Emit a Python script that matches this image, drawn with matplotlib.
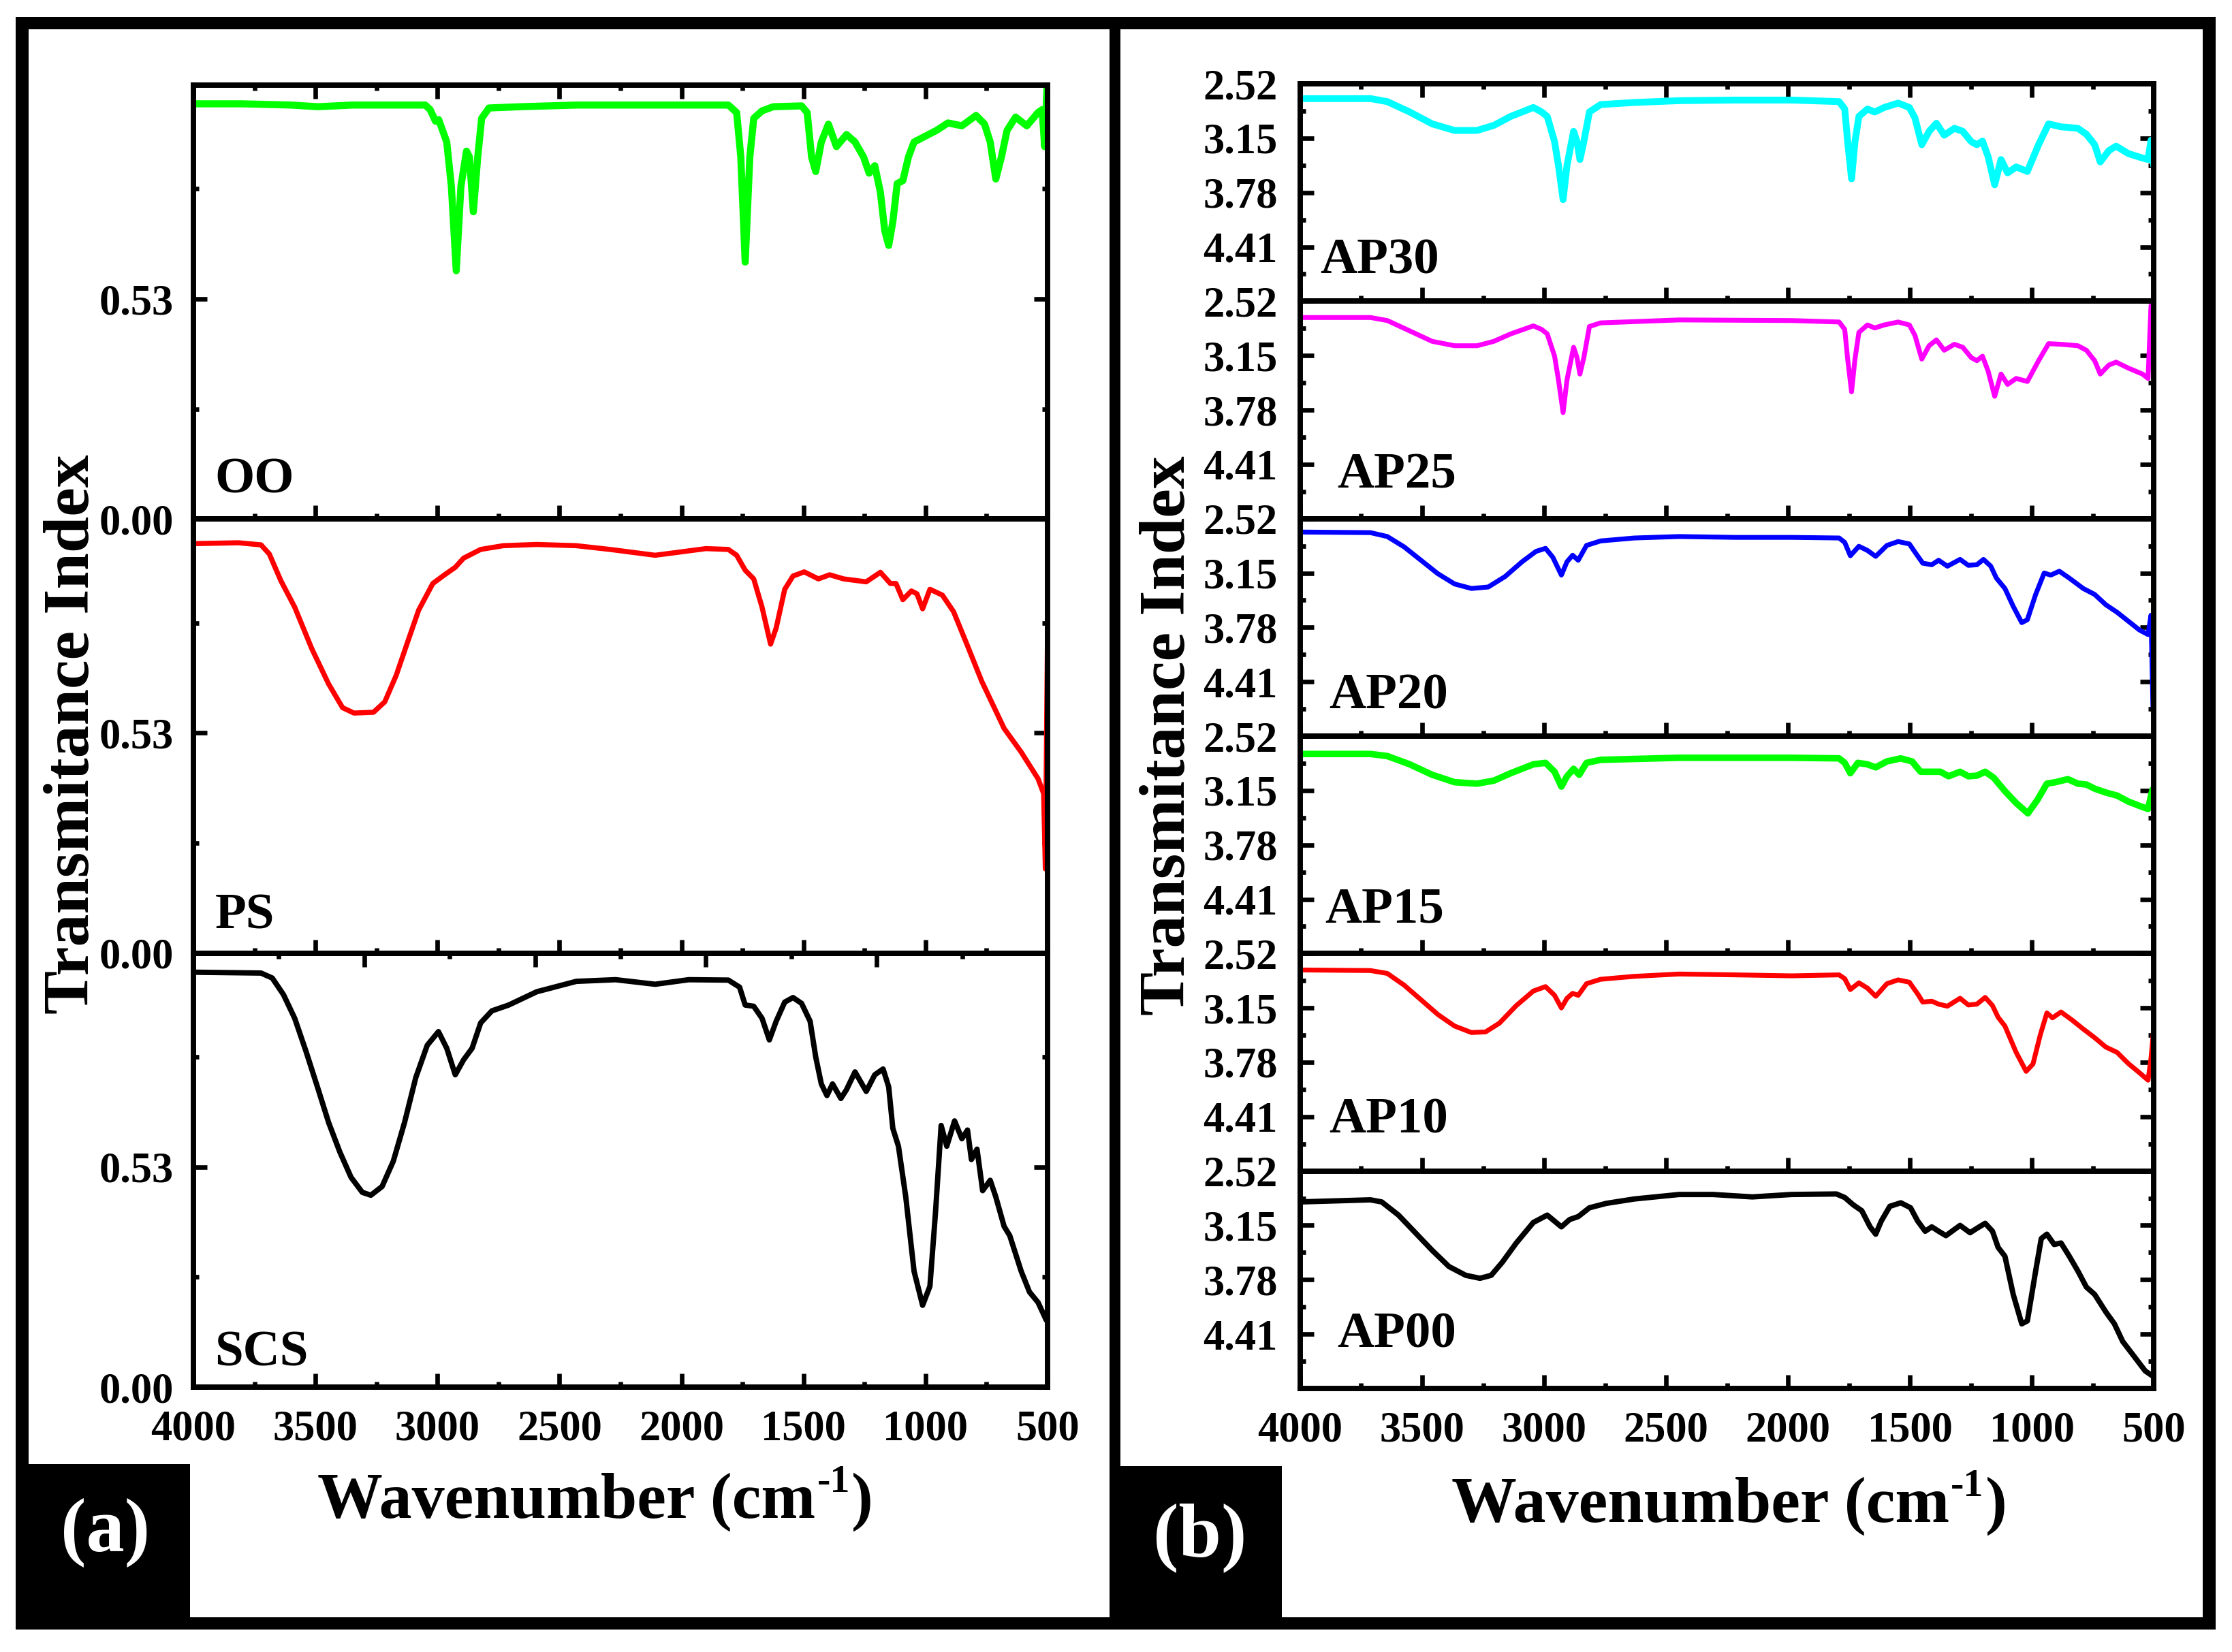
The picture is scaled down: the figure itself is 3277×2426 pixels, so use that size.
import matplotlib
matplotlib.use("Agg")
import matplotlib.pyplot as plt
from matplotlib.patches import Rectangle
from matplotlib.ticker import FixedLocator, NullFormatter, FormatStrFormatter

# ---------------- data ----------------
x_ticks = [4000, 3500, 3000, 2500, 2000, 1500, 1000, 500]
a_yticks = [0.00, 0.53]
b_yticks = [2.52, 3.15, 3.78, 4.41]

oo_wn = [4000, 3800, 3600, 3490, 3350, 3050, 3030, 3008, 2995, 2962, 2943, 2923, 2904, 2881, 2869, 2853, 2835,
         2819, 2789, 2660, 2430, 2200, 1970, 1808, 1774, 1757, 1739, 1720, 1704, 1670, 1624, 1508, 1485, 1467,
         1450, 1427, 1398, 1365, 1324, 1289, 1254, 1231, 1208, 1185, 1167, 1151, 1134, 1116, 1093, 1070, 1047,
         1001, 955, 908, 851, 793, 758, 735, 712, 689, 666, 631, 585, 539, 522, 512, 502]
oo_t = [1.000, 1.000, 0.997, 0.993, 0.997, 0.997, 0.986, 0.958, 0.962, 0.908, 0.801, 0.598, 0.801, 0.886, 0.872,
        0.740, 0.872, 0.965, 0.990, 0.993, 0.997, 0.997, 0.997, 0.997, 0.979, 0.872, 0.619, 0.872, 0.965, 0.983,
        0.993, 0.995, 0.979, 0.872, 0.837, 0.908, 0.951, 0.897, 0.926, 0.908, 0.872, 0.833, 0.851, 0.787, 0.694,
        0.659, 0.716, 0.808, 0.815, 0.872, 0.908, 0.922, 0.936, 0.954, 0.947, 0.972, 0.951, 0.908, 0.819, 0.872,
        0.936, 0.968, 0.947, 0.979, 0.986, 0.897, 1.043]

ps_wn = [4000, 3815, 3723, 3689, 3642, 3585, 3515, 3446, 3389, 3342, 3262, 3216, 3169, 3123, 3077, 3019, 2973,
         2927, 2893, 2823, 2731, 2593, 2431, 2293, 2108, 2016, 1900, 1808, 1774, 1739, 1704, 1670, 1635, 1612,
         1577, 1543, 1497, 1439, 1393, 1335, 1243, 1185, 1144, 1121, 1093, 1058, 1035, 1012, 982, 931, 885, 828,
         770, 678, 608, 539, 516, 509, 500]
ps_t = [0.986, 0.988, 0.983, 0.961, 0.897, 0.833, 0.733, 0.648, 0.591, 0.578, 0.580, 0.605, 0.669, 0.748, 0.826,
        0.890, 0.910, 0.929, 0.951, 0.972, 0.981, 0.984, 0.981, 0.972, 0.958, 0.965, 0.974, 0.972, 0.958, 0.922,
        0.901, 0.833, 0.744, 0.783, 0.876, 0.908, 0.918, 0.901, 0.911, 0.901, 0.894, 0.917, 0.890, 0.890, 0.851,
        0.872, 0.865, 0.829, 0.876, 0.862, 0.822, 0.740, 0.655, 0.541, 0.484, 0.420, 0.384, 0.203, 0.783]

scs_wn = [4000, 3723, 3677, 3631, 3585, 3539, 3492, 3446, 3400, 3354, 3308, 3273, 3227, 3181, 3135, 3089, 3042,
          2996, 2962, 2927, 2893, 2858, 2823, 2777, 2708, 2593, 2431, 2270, 2108, 1970, 1808, 1762, 1739, 1704,
          1670, 1640, 1612, 1577, 1543, 1508, 1473, 1450, 1427, 1404, 1381, 1347, 1324, 1289, 1243, 1208, 1174,
          1151, 1134, 1111, 1081, 1047, 1012, 982, 959, 936, 913, 881, 851, 828, 812, 789, 766, 735, 712, 678,
          655, 608, 574, 539, 505]
scs_t = [0.999, 0.997, 0.985, 0.945, 0.888, 0.809, 0.723, 0.637, 0.566, 0.505, 0.469, 0.462, 0.483, 0.544, 0.637,
         0.745, 0.823, 0.856, 0.816, 0.752, 0.788, 0.816, 0.877, 0.906, 0.920, 0.952, 0.977, 0.981, 0.970, 0.981,
         0.980, 0.963, 0.920, 0.917, 0.888, 0.836, 0.881, 0.927, 0.938, 0.924, 0.881, 0.795, 0.730, 0.702, 0.730,
         0.695, 0.716, 0.759, 0.712, 0.752, 0.766, 0.723, 0.623, 0.580, 0.458, 0.279, 0.197, 0.243, 0.422, 0.630,
         0.580, 0.641, 0.598, 0.619, 0.548, 0.573, 0.473, 0.498, 0.458, 0.387, 0.365, 0.279, 0.229, 0.204, 0.161]

ap30_wn = [4000, 3712, 3643, 3551, 3459, 3367, 3275, 3206, 3137, 3044, 3010, 2987, 2957, 2941, 2922, 2906, 2879,
           2865, 2853, 2837, 2814, 2768, 2630, 2446, 2215, 1985, 1790, 1767, 1755, 1739, 1725, 1709, 1674, 1644,
           1605, 1548, 1502, 1479, 1451, 1421, 1391, 1359, 1317, 1283, 1248, 1225, 1202, 1179, 1152, 1126, 1099,
           1064, 1018, 972, 931, 880, 811, 776, 742, 719, 684, 654, 604, 546, 523, 511, 500]
ap30_t = [2.692, 2.692, 2.727, 2.847, 2.985, 3.061, 3.061, 3.002, 2.899, 2.795, 2.847, 2.899, 3.191, 3.467, 3.863,
          3.467, 3.071, 3.191, 3.398, 3.191, 2.847, 2.761, 2.737, 2.716, 2.709, 2.709, 2.727, 2.813, 3.191, 3.622,
          3.191, 2.899, 2.813, 2.847, 2.795, 2.744, 2.795, 2.916, 3.226, 3.071, 2.978, 3.116, 3.036, 3.071, 3.191,
          3.226, 3.185, 3.364, 3.691, 3.398, 3.553, 3.484, 3.536, 3.226, 2.985, 3.019, 3.036, 3.105, 3.226, 3.426,
          3.295, 3.243, 3.329, 3.381, 3.398, 3.174, 3.467]

ap25_wn = [4000, 3712, 3643, 3551, 3459, 3367, 3275, 3206, 3137, 3044, 3010, 2987, 2957, 2941, 2922, 2906, 2879,
           2865, 2853, 2837, 2814, 2768, 2446, 1985, 1790, 1767, 1755, 1739, 1725, 1709, 1674, 1644, 1605, 1548,
           1502, 1479, 1451, 1421, 1391, 1359, 1317, 1283, 1248, 1225, 1202, 1179, 1152, 1126, 1099, 1064, 1018,
           972, 931, 880, 811, 776, 742, 719, 684, 654, 604, 546, 523, 511, 500]
ap25_t = [2.709, 2.709, 2.744, 2.864, 2.985, 3.036, 3.036, 2.985, 2.899, 2.806, 2.847, 2.899, 3.157, 3.432, 3.811,
          3.432, 3.054, 3.174, 3.364, 3.174, 2.813, 2.771, 2.737, 2.744, 2.761, 2.847, 3.191, 3.570, 3.191, 2.882,
          2.795, 2.830, 2.795, 2.761, 2.795, 2.916, 3.191, 3.036, 2.968, 3.088, 3.019, 3.054, 3.174, 3.209, 3.157,
          3.329, 3.622, 3.364, 3.484, 3.415, 3.450, 3.209, 3.012, 3.019, 3.036, 3.088, 3.209, 3.364, 3.260, 3.226,
          3.295, 3.364, 3.415, 2.572, 2.520]

ap20_wn = [4000, 3712, 3643, 3574, 3505, 3436, 3367, 3298, 3229, 3160, 3090, 3033, 2994, 2964, 2929, 2906, 2883,
           2860, 2826, 2768, 2630, 2446, 2215, 1985, 1790, 1767, 1744, 1709, 1674, 1640, 1594, 1548, 1502, 1477,
           1447, 1410, 1382, 1346, 1294, 1260, 1225, 1198, 1168, 1145, 1110, 1076, 1041, 1018, 984, 949, 922, 887,
           846, 789, 742, 696, 650, 604, 558, 523, 511, 503]
ap20_t = [2.675, 2.682, 2.727, 2.847, 3.002, 3.157, 3.277, 3.329, 3.312, 3.191, 3.019, 2.899, 2.864, 2.968, 3.174,
          3.019, 2.944, 3.002, 2.830, 2.778, 2.744, 2.727, 2.737, 2.737, 2.744, 2.795, 2.950, 2.840, 2.888, 2.957,
          2.830, 2.785, 2.813, 2.916, 3.036, 3.054, 3.002, 3.071, 2.992, 3.061, 3.054, 2.992, 3.071, 3.209, 3.329,
          3.536, 3.725, 3.691, 3.398, 3.150, 3.174, 3.129, 3.209, 3.329, 3.398, 3.518, 3.605, 3.708, 3.811, 3.863,
          3.639, 4.706]

ap15_wn = [4000, 3712, 3643, 3551, 3459, 3367, 3275, 3206, 3137, 3044, 2994, 2957, 2929, 2906, 2879, 2856, 2826,
           2768, 2446, 1985, 1790, 1767, 1744, 1713, 1674, 1640, 1594, 1537, 1491, 1456, 1410, 1375, 1341, 1294,
           1260, 1225, 1191, 1156, 1110, 1064, 1016, 977, 938, 903, 852, 811, 776, 742, 696, 650, 604, 558, 523, 505]
ap15_t = [2.727, 2.727, 2.751, 2.847, 2.968, 3.054, 3.071, 3.036, 2.950, 2.847, 2.830, 2.933, 3.105, 2.985, 2.899,
          2.968, 2.830, 2.795, 2.771, 2.771, 2.778, 2.830, 2.950, 2.830, 2.847, 2.882, 2.813, 2.778, 2.813, 2.933,
          2.933, 2.933, 2.985, 2.933, 2.985, 2.978, 2.933, 3.002, 3.157, 3.295, 3.415, 3.260, 3.071, 3.054, 3.019,
          3.071, 3.081, 3.129, 3.174, 3.209, 3.278, 3.329, 3.364, 3.140]

ap10_wn = [4000, 3712, 3643, 3574, 3505, 3436, 3367, 3298, 3240, 3183, 3114, 3044, 2994, 2957, 2929, 2906, 2883,
           2860, 2826, 2768, 2630, 2446, 2215, 1985, 1790, 1767, 1744, 1709, 1674, 1640, 1594, 1548, 1502, 1468,
           1447, 1410, 1382, 1346, 1294, 1260, 1225, 1191, 1161, 1138, 1110, 1064, 1023, 995, 965, 938, 915, 880,
           834, 789, 742, 696, 650, 604, 558, 523, 511, 500]
ap10_t = [2.710, 2.717, 2.750, 2.886, 3.055, 3.225, 3.360, 3.435, 3.428, 3.326, 3.123, 2.954, 2.903, 3.004, 3.150,
          3.038, 2.981, 3.004, 2.869, 2.818, 2.784, 2.757, 2.767, 2.778, 2.767, 2.811, 2.937, 2.859, 2.920, 3.015,
          2.869, 2.825, 2.852, 2.987, 3.082, 3.072, 3.106, 3.130, 3.038, 3.116, 3.106, 3.028, 3.123, 3.258, 3.360,
          3.665, 3.885, 3.800, 3.462, 3.208, 3.265, 3.197, 3.292, 3.394, 3.495, 3.604, 3.665, 3.794, 3.902, 3.987,
          3.733, 3.394]

ap00_wn = [4000, 3712, 3666, 3597, 3528, 3459, 3390, 3321, 3263, 3217, 3171, 3114, 3044, 2987, 2929, 2895, 2860,
           2814, 2745, 2630, 2446, 2308, 2146, 1985, 1801, 1767, 1732, 1697, 1663, 1640, 1617, 1582, 1537, 1497,
           1468, 1437, 1410, 1382, 1352, 1294, 1253, 1225, 1191, 1161, 1138, 1110, 1076, 1041, 1018, 984, 961, 938,
           908, 880, 846, 811, 776, 742, 696, 661, 627, 581, 535, 500]
ap00_t = [2.878, 2.854, 2.878, 3.031, 3.235, 3.439, 3.627, 3.729, 3.763, 3.729, 3.576, 3.354, 3.116, 3.031, 3.167,
          3.082, 3.048, 2.946, 2.895, 2.844, 2.792, 2.792, 2.820, 2.792, 2.786, 2.827, 2.912, 2.980, 3.167, 3.252,
          3.099, 2.929, 2.888, 2.946, 3.099, 3.218, 3.167, 3.218, 3.269, 3.150, 3.235, 3.184, 3.126, 3.218, 3.405,
          3.508, 3.950, 4.291, 4.257, 3.678, 3.303, 3.252, 3.371, 3.354, 3.508, 3.678, 3.865, 3.950, 4.154, 4.291,
          4.495, 4.665, 4.836, 4.904]

panel_a_names = ["OO", "PS", "SCS"]
panel_b_names = ["AP30", "AP25", "AP20", "AP15", "AP10", "AP00"]

# ---------------- style ----------------
plt.rcParams['font.family'] = ['Liberation Serif', 'DejaVu Serif']
plt.rcParams['font.weight'] = 'bold'

W, H = 3277, 2426
fig = plt.figure(figsize=(W / 300, H / 300), dpi=300)
fig.patch.set_facecolor('white')


def fx(px):
    return px / W


def fy(py):
    return 1 - py / H


def block(x0, y0, x1, y1):
    fig.add_artist(Rectangle((fx(x0), fy(y1)), (x1 - x0) / W, (y1 - y0) / H,
                             transform=fig.transFigure, facecolor='black',
                             edgecolor='none', zorder=1))


# outer frame, separator and label boxes
block(23, 25, 3253, 43)
block(23, 2375, 3253, 2393)
block(23, 25, 42, 2393)
block(3234, 25, 3253, 2393)
block(1629, 25, 1645, 2393)
block(23, 2150, 279, 2393)
block(1645, 2153, 1882, 2393)

x_minor = [3750, 3250, 2750, 2250, 1750, 1250, 750]
TICK_W = 1.6
SPINE_W = 1.9


def style(ax, ylim, yt, ymin, xlabels, top):
    ax.set_xlim(4000, 500)
    ax.set_ylim(*ylim)
    ax.xaxis.set_major_locator(FixedLocator(x_ticks))
    ax.xaxis.set_minor_locator(FixedLocator(x_minor))
    ax.yaxis.set_major_locator(FixedLocator(yt))
    ax.yaxis.set_minor_locator(FixedLocator(ymin))
    ax.yaxis.set_major_formatter(FormatStrFormatter('%.2f'))
    ax.tick_params(which='both', direction='in', width=TICK_W, left=True, right=True,
                   bottom=True, top=top, labelsize=15)
    ax.tick_params(which='major', length=4.8)
    ax.tick_params(which='minor', length=1.9)
    ax.tick_params(axis='x', pad=8, labelbottom=xlabels)
    ax.tick_params(axis='y', pad=7)
    for sp in ax.spines.values():
        sp.set_linewidth(SPINE_W)


# ---------------- panel (a) ----------------
a_left, a_right, a_top, a_bot = 284, 1538, 125, 2037
a_series = [(oo_wn, oo_t, '#00FF00', 2.5), (ps_wn, ps_t, '#FF0000', 1.8), (scs_wn, scs_t, 'black', 1.9)]
a_lab_pos = [(0.025, 0.061), (0.025, 0.056), (0.025, 0.049)]
ha = (a_bot - a_top) / 3
axes_a = []
for i, (wn, tv, col, lw) in enumerate(a_series):
    t = a_top + i * ha
    b = t + ha
    ax = fig.add_axes([fx(a_left), fy(b), (a_right - a_left) / W, ha / H])
    ax.plot(wn, tv, color=col, lw=lw, solid_joinstyle='round', solid_capstyle='round')
    style(ax, (0, 1.045), a_yticks, [0.265, 0.795], i == 2, i == 0)
    ax.text(a_lab_pos[i][0], a_lab_pos[i][1], panel_a_names[i], transform=ax.transAxes,
            fontsize=18, ha='left', va='baseline')
    axes_a.append(ax)

# odd top tick set on SCS panel
sec = axes_a[2].secondary_xaxis('top')
sec.xaxis.set_major_locator(FixedLocator([3300, 2600, 1900, 1200]))
sec.xaxis.set_minor_locator(FixedLocator([3650, 2950, 2250, 1550, 850]))
sec.xaxis.set_major_formatter(NullFormatter())
sec.tick_params(which='both', direction='in', width=TICK_W)
sec.tick_params(which='major', length=4.8)
sec.tick_params(which='minor', length=1.9)
sec.spines['top'].set_linewidth(SPINE_W)

# ---------------- panel (b) ----------------
b_left, b_right, b_top, b_bot = 1909, 3162, 123, 2039
b_series = [(ap30_wn, ap30_t, '#00FFFF', 2.4), (ap25_wn, ap25_t, '#FF00FF', 1.7),
            (ap20_wn, ap20_t, '#0000FF', 1.7), (ap15_wn, ap15_t, '#00FF00', 2.3),
            (ap10_wn, ap10_t, '#FF0000', 1.7), (ap00_wn, ap00_t, 'black', 1.9)]
b_lab_pos = [(0.023, 0.129), (0.043, 0.141), (0.034, 0.128), (0.029, 0.144), (0.034, 0.176), (0.043, 0.191)]
hb = (b_bot - b_top) / 6
for i, (wn, tv, col, lw) in enumerate(b_series):
    t = b_top + i * hb
    b = t + hb
    ax = fig.add_axes([fx(b_left), fy(b), (b_right - b_left) / W, hb / H])
    ax.plot(wn, tv, color=col, lw=lw, solid_joinstyle='round', solid_capstyle='round')
    style(ax, (5.04, 2.52), b_yticks, [2.835, 3.465, 4.095, 4.725], i == 5, i == 0)
    ax.tick_params(axis='y', pad=8)
    ax.text(b_lab_pos[i][0], b_lab_pos[i][1], panel_b_names[i], transform=ax.transAxes,
            fontsize=18, ha='left', va='baseline')

# ---------------- labels ----------------
fig.text(fx(130), fy(1078), 'Transmitance Index', rotation=90, rotation_mode='anchor',
         ha='center', va='baseline', fontsize=23)
fig.text(fx(1739), fy(1080), 'Transmitance Index', rotation=90, rotation_mode='anchor',
         ha='center', va='baseline', fontsize=23)


def wavenumber_label(xc, yb):
    # main text with a raised small "-1" superscript drawn as separate text pieces
    main = fig.text(0, 0, 'Wavenumber (cm', fontsize=23, ha='left', va='baseline')
    sup = fig.text(0, 0, '-1', fontsize=14, ha='left', va='baseline')
    close = fig.text(0, 0, ')', fontsize=23, ha='left', va='baseline')
    r = fig.canvas.get_renderer()
    w_main = main.get_window_extent(r).width
    w_sup = sup.get_window_extent(r).width
    w_close = close.get_window_extent(r).width
    total = w_main + w_sup + w_close
    x0 = xc - total / 2
    main.set_position((fx(x0), fy(yb)))
    sup.set_position((fx(x0 + w_main + 2), fy(yb - 38)))
    close.set_position((fx(x0 + w_main + w_sup + 4), fy(yb)))


wavenumber_label(872, 2229)
wavenumber_label(2537, 2235)

fig.text(fx(155), fy(2250), '(a)', color='white', ha='center', va='center', fontsize=27, zorder=5)
fig.text(fx(1762), fy(2258), '(b)', color='white', ha='center', va='center', fontsize=27, zorder=5)

fig.savefig('out.png', dpi=300, facecolor='white')
